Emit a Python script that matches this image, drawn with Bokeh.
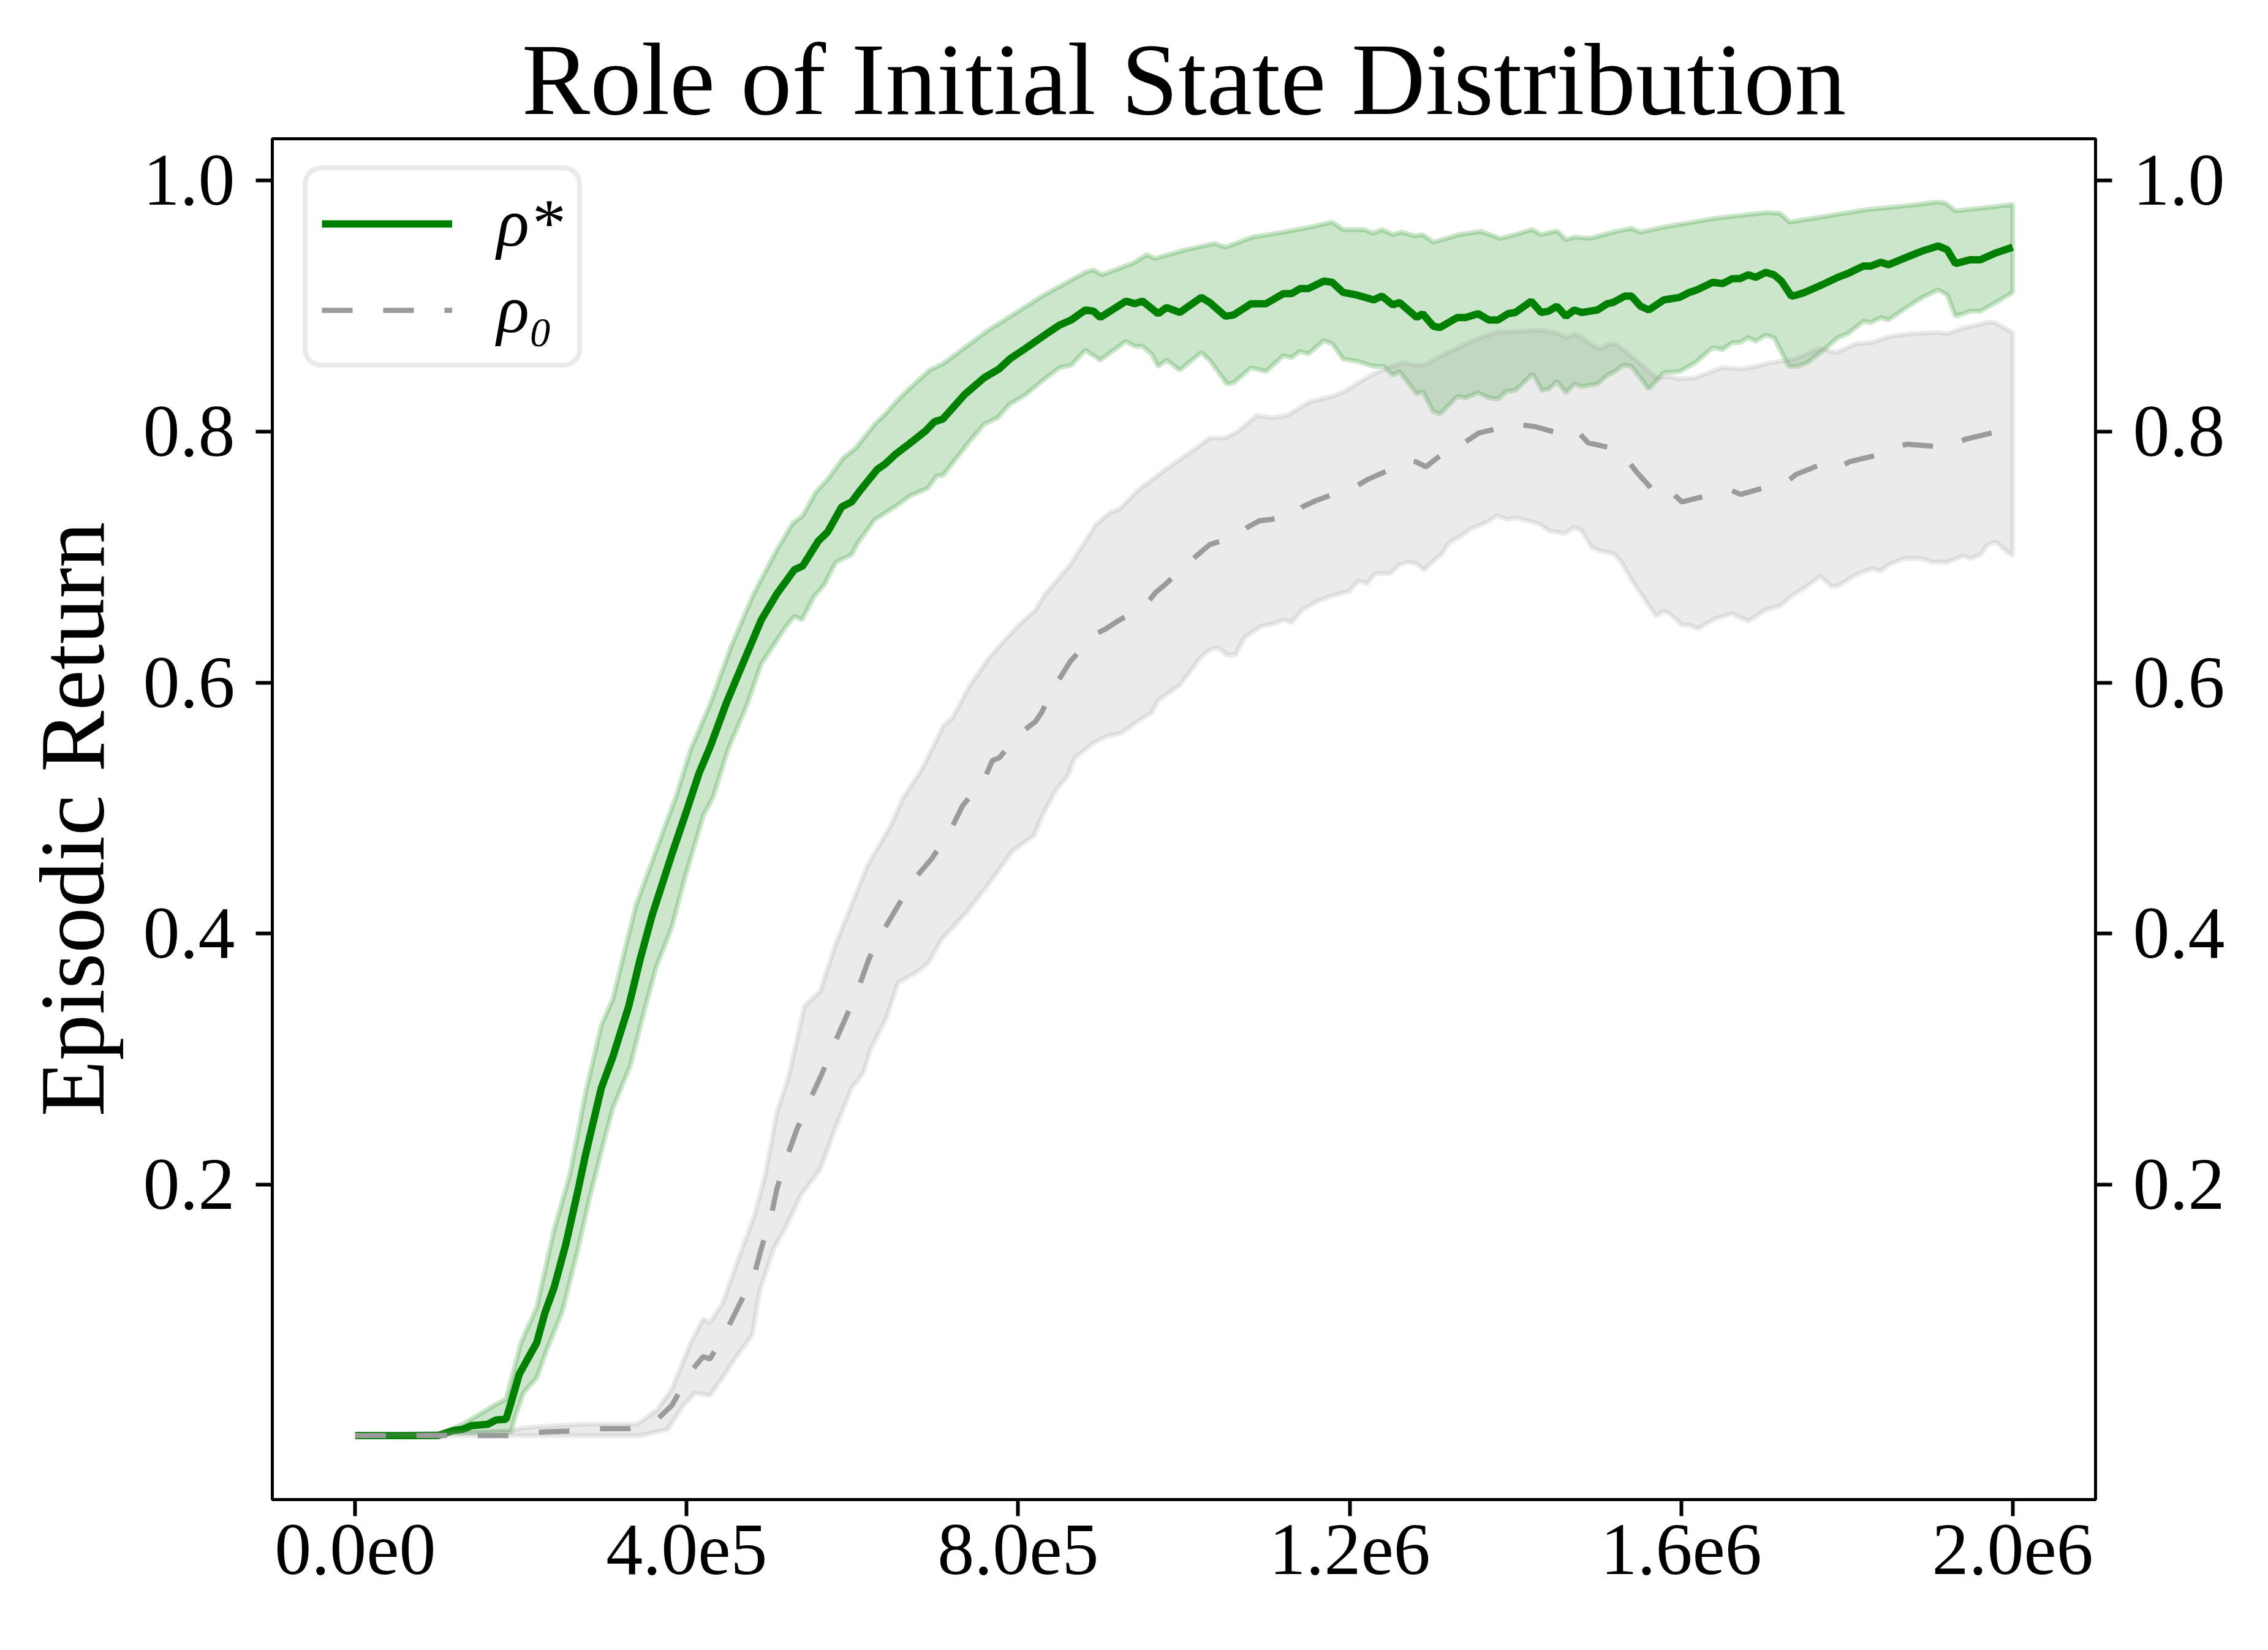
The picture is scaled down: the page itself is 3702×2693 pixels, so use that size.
from bokeh.plotting import figure
from bokeh.models import (LinearAxis, FixedTicker, Legend, LegendItem, Range1d,
                          NumeralTickFormatter)
from bokeh.embed import file_html
from bokeh.resources import INLINE

# ---------------- data (x in thousands of environment steps) ----------------
green_x = [0, 100, 118, 130, 141, 160, 170, 182, 188, 198, 219, 229, 240, 254, 269, 278, 297, 311,
           330, 344, 358, 382, 401, 415, 429, 448, 467, 490, 509, 519, 530, 540, 559, 570, 587, 599,
           608, 630, 639, 652, 668, 689, 699, 709, 736, 759, 777, 790, 808, 832, 850, 864, 881, 891,
           899, 930, 941, 950, 969, 979, 995, 1021, 1031, 1050, 1060, 1081, 1099, 1120, 1130, 1140,
           1150, 1169, 1179, 1192, 1208, 1229, 1239, 1252, 1260, 1281, 1288, 1301, 1309, 1330, 1340,
           1355, 1368, 1379, 1391, 1400, 1419, 1431, 1440, 1450, 1461, 1471, 1480, 1499, 1511, 1518,
           1532, 1540, 1551, 1561, 1579, 1598, 1610, 1619, 1638, 1650, 1662, 1671, 1681, 1690, 1702,
           1712, 1721, 1733, 1740, 1749, 1763, 1773, 1789, 1801, 1820, 1829, 1841, 1850, 1872, 1891,
           1910, 1921, 1931, 1949, 1961, 1978, 2000]
green_mean = [0.0, 0.0, 0.004, 0.005, 0.008, 0.009, 0.0125, 0.013, 0.026, 0.049, 0.074, 0.098, 0.118,
              0.152, 0.196, 0.224, 0.277, 0.302, 0.342, 0.380, 0.414, 0.463, 0.500, 0.528, 0.550,
              0.584, 0.614, 0.650, 0.671, 0.680, 0.690, 0.693, 0.713, 0.720, 0.740, 0.744, 0.752,
              0.770, 0.774, 0.782, 0.790, 0.801, 0.808, 0.810, 0.830, 0.843, 0.850, 0.858, 0.866,
              0.877, 0.885, 0.889, 0.897, 0.896, 0.891, 0.904, 0.902, 0.904, 0.894, 0.899, 0.895,
              0.907, 0.903, 0.892, 0.893, 0.902, 0.902, 0.910, 0.910, 0.914, 0.914, 0.920, 0.919,
              0.911, 0.909, 0.905, 0.908, 0.901, 0.903, 0.891, 0.894, 0.884, 0.883, 0.891, 0.891,
              0.894, 0.889, 0.889, 0.894, 0.895, 0.904, 0.895, 0.896, 0.900, 0.892, 0.897, 0.895,
              0.897, 0.902, 0.903, 0.908, 0.908, 0.900, 0.897, 0.905, 0.907, 0.911, 0.913, 0.919,
              0.918, 0.922, 0.922, 0.925, 0.923, 0.927, 0.925, 0.920, 0.908, 0.909, 0.911, 0.915,
              0.918, 0.923, 0.926, 0.932, 0.932, 0.935, 0.933, 0.939, 0.944, 0.948, 0.945, 0.934,
              0.937, 0.937, 0.942, 0.947]

green_up_x = [0, 100, 132, 150, 170, 182, 193, 200, 219, 240, 259, 278, 297, 311, 325, 339, 363, 387,
              405, 429, 453, 481, 509, 528, 540, 556, 570, 589, 604, 627, 641, 653, 665, 693, 709,
              762, 829, 881, 891, 901, 938, 955, 965, 1000, 1037, 1050, 1083, 1120, 1156, 1179, 1192,
              1218, 1228, 1239, 1252, 1263, 1278, 1288, 1301, 1332, 1358, 1382, 1400, 1420, 1431,
              1450, 1461, 1471, 1490, 1518, 1540, 1551, 1579, 1641, 1702, 1719, 1731, 1778, 1825,
              1872, 1910, 1919, 1931, 1961, 2000]
green_up = [0.0, 0.0, 0.010, 0.017, 0.025, 0.029, 0.056, 0.074, 0.102, 0.164, 0.208, 0.273, 0.327,
            0.348, 0.386, 0.423, 0.466, 0.509, 0.547, 0.584, 0.628, 0.671, 0.706, 0.727, 0.733,
            0.752, 0.762, 0.779, 0.787, 0.806, 0.815, 0.824, 0.832, 0.849, 0.854, 0.880, 0.908,
            0.927, 0.929, 0.925, 0.934, 0.941, 0.938, 0.9445, 0.950, 0.947, 0.955, 0.959, 0.9635,
            0.967, 0.961, 0.961, 0.958, 0.961, 0.957, 0.959, 0.956, 0.957, 0.951, 0.957, 0.9595,
            0.954, 0.957, 0.961, 0.957, 0.960, 0.953, 0.955, 0.954, 0.959, 0.962, 0.959, 0.963,
            0.970, 0.9746, 0.974, 0.967, 0.972, 0.977, 0.980, 0.983, 0.982, 0.976, 0.978, 0.981]

green_lo_x = [0, 188, 193, 203, 219, 231, 250, 269, 283, 302, 311, 332, 349, 363, 382, 398, 420, 432,
              450, 472, 490, 509, 519, 530, 539, 554, 566, 580, 599, 606, 627, 651, 670, 691, 702,
              709, 741, 759, 775, 790, 808, 832, 850, 864, 881, 899, 930, 941, 950, 961, 969, 979,
              995, 1021, 1031, 1052, 1060, 1081, 1099, 1120, 1130, 1140, 1150, 1169, 1179, 1192,
              1210, 1229, 1241, 1252, 1260, 1281, 1288, 1301, 1309, 1330, 1340, 1355, 1368, 1379,
              1389, 1400, 1421, 1432, 1440, 1450, 1461, 1471, 1480, 1499, 1511, 1520, 1530, 1540,
              1561, 1579, 1598, 1617, 1638, 1650, 1662, 1671, 1681, 1690, 1702, 1712, 1730, 1740,
              1752, 1770, 1789, 1801, 1820, 1829, 1841, 1850, 1872, 1891, 1910, 1921, 1931, 1949,
              1961, 1980, 2000]
green_lo = [0.0, 0.003, 0.015, 0.034, 0.046, 0.068, 0.099, 0.149, 0.190, 0.239, 0.261, 0.295, 0.339,
            0.373, 0.405, 0.445, 0.494, 0.509, 0.547, 0.581, 0.615, 0.634, 0.644, 0.653, 0.650,
            0.669, 0.678, 0.696, 0.702, 0.711, 0.730, 0.740, 0.749, 0.755, 0.765, 0.765, 0.792,
            0.806, 0.811, 0.822, 0.829, 0.842, 0.851, 0.853, 0.865, 0.857, 0.872, 0.868, 0.868,
            0.862, 0.852, 0.857, 0.849, 0.863, 0.857, 0.838, 0.839, 0.851, 0.848, 0.8606, 0.859,
            0.864, 0.862, 0.8726, 0.870, 0.858, 0.856, 0.852, 0.852, 0.845, 0.848, 0.830, 0.832,
            0.816, 0.814, 0.828, 0.827, 0.831, 0.827, 0.826, 0.832, 0.833, 0.846, 0.833, 0.834,
            0.840, 0.831, 0.838, 0.836, 0.838, 0.845, 0.848, 0.853, 0.852, 0.834, 0.847, 0.848,
            0.855, 0.867, 0.8655, 0.871, 0.871, 0.875, 0.872, 0.877, 0.875, 0.852, 0.852, 0.855,
            0.864, 0.875, 0.878, 0.888, 0.887, 0.891, 0.889, 0.899, 0.907, 0.913, 0.909, 0.892,
            0.896, 0.896, 0.903, 0.911]

gray_x = [0, 184, 230, 270, 292, 330, 363, 382, 405, 420, 428, 448, 464, 481, 490, 502, 509, 521, 533,
          549, 563, 578, 592, 608, 620, 636, 653, 674, 696, 718, 733, 759, 769, 777, 803, 821, 828,
          845, 863, 891, 906, 920, 954, 966, 977, 1008, 1031, 1065, 1077, 1091, 1130, 1143, 1159,
          1197, 1209, 1222, 1260, 1272, 1280, 1292, 1325, 1340, 1356, 1389, 1400, 1424, 1461, 1471,
          1478, 1488, 1523, 1532, 1546, 1561, 1570, 1579, 1591, 1601, 1637, 1661, 1672, 1709, 1723,
          1739, 1773, 1783, 1789, 1803, 1841, 1853, 1872, 1912, 1919, 1943, 1981, 1990, 2000]
gray_mean = [0.0, 0.0, 0.003, 0.004, 0.0055, 0.0055, 0.012, 0.024, 0.051, 0.063, 0.061, 0.0835, 0.105,
             0.127, 0.149, 0.175, 0.197, 0.222, 0.244, 0.268, 0.288, 0.312, 0.333, 0.358, 0.380,
             0.401, 0.420, 0.443, 0.460, 0.482, 0.502, 0.523, 0.538, 0.540, 0.560, 0.569, 0.576,
             0.598, 0.617, 0.638, 0.643, 0.649, 0.662, 0.672, 0.678, 0.697, 0.710, 0.717, 0.724,
             0.729, 0.732, 0.740, 0.745, 0.754, 0.757, 0.762, 0.773, 0.777, 0.776, 0.772, 0.789,
             0.792, 0.799, 0.804, 0.806, 0.804, 0.797, 0.801, 0.798, 0.791, 0.786, 0.780, 0.768,
             0.757, 0.748, 0.751, 0.750, 0.744, 0.750, 0.753, 0.750, 0.757, 0.758, 0.766, 0.775,
             0.771, 0.771, 0.776, 0.782, 0.786, 0.790, 0.788, 0.787, 0.794, 0.800, 0.795, 0.791]

gray_up_x = [0, 190, 203, 273, 339, 349, 365, 382, 405, 420, 428, 443, 462, 481, 495, 509, 523, 542,
             561, 580, 599, 618, 647, 661, 684, 710, 720, 741, 764, 777, 801, 821, 832, 863, 894, 912,
             922, 946, 974, 1011, 1031, 1050, 1065, 1088, 1107, 1125, 1151, 1165, 1179, 1194, 1213,
             1229, 1246, 1264, 1280, 1290, 1312, 1337, 1358, 1379, 1400, 1429, 1448, 1462, 1471,
             1480, 1493, 1502, 1514, 1523, 1532, 1546, 1570, 1584, 1598, 1617, 1637, 1650, 1674,
             1690, 1709, 1737, 1768, 1787, 1811, 1830, 1853, 1877, 1910, 1921, 1943, 1952, 1969,
             1978, 2000]
gray_up = [0.0, 0.004, 0.0063, 0.009, 0.009, 0.013, 0.021, 0.037, 0.074, 0.093, 0.090, 0.105, 0.140,
           0.174, 0.208, 0.258, 0.286, 0.342, 0.354, 0.392, 0.423, 0.454, 0.487, 0.508, 0.531, 0.566,
           0.571, 0.597, 0.619, 0.629, 0.646, 0.658, 0.670, 0.694, 0.726, 0.736, 0.738, 0.754,
           0.768, 0.785, 0.795, 0.795, 0.800, 0.813, 0.811, 0.813, 0.8235, 0.826, 0.828, 0.832,
           0.840, 0.846, 0.851, 0.855, 0.853, 0.853, 0.861, 0.869, 0.875, 0.8795, 0.880, 0.881,
           0.879, 0.875, 0.878, 0.875, 0.869, 0.866, 0.870, 0.869, 0.864, 0.857, 0.843, 0.844,
           0.842, 0.843, 0.848, 0.851, 0.850, 0.852, 0.855, 0.858, 0.8665, 0.863, 0.870, 0.871,
           0.876, 0.878, 0.879, 0.878, 0.883, 0.884, 0.887, 0.887, 0.879]

gray_lo_x = [0, 344, 377, 396, 410, 428, 443, 462, 479, 488, 505, 521, 538, 561, 580, 599, 613, 622,
             641, 655, 679, 692, 707, 735, 765, 793, 819, 829, 845, 860, 868, 891, 906, 925, 944, 961,
             969, 995, 1021, 1031, 1041, 1052, 1062, 1073, 1093, 1109, 1121, 1130, 1143, 1161, 1182,
             1200, 1210, 1221, 1231, 1249, 1260, 1270, 1280, 1290, 1301, 1312, 1319, 1337, 1347,
             1363, 1378, 1391, 1400, 1429, 1440, 1460, 1471, 1480, 1492, 1502, 1518, 1528, 1542,
             1570, 1579, 1586, 1601, 1610, 1620, 1641, 1661, 1681, 1702, 1719, 1733, 1750, 1768,
             1781, 1789, 1811, 1830, 1841, 1850, 1870, 1891, 1903, 1921, 1940, 1949, 1961, 1970,
             1980, 1990, 2000]
gray_lo = [0.0, 0.0, 0.005, 0.024, 0.034, 0.032, 0.046, 0.065, 0.080, 0.115, 0.149, 0.168, 0.192,
           0.212, 0.246, 0.277, 0.289, 0.308, 0.333, 0.361, 0.370, 0.377, 0.395, 0.415, 0.440,
           0.466, 0.478, 0.494, 0.514, 0.526, 0.540, 0.552, 0.557, 0.560, 0.569, 0.576, 0.586,
           0.598, 0.621, 0.626, 0.628, 0.622, 0.622, 0.636, 0.645, 0.647, 0.650, 0.648, 0.658,
           0.665, 0.670, 0.673, 0.681, 0.679, 0.687, 0.687, 0.694, 0.696, 0.695, 0.690, 0.697,
           0.703, 0.711, 0.718, 0.723, 0.727, 0.733, 0.730, 0.7315, 0.7265, 0.721, 0.719, 0.724,
           0.721, 0.708, 0.705, 0.703, 0.696, 0.680, 0.653, 0.657, 0.655, 0.646, 0.646, 0.643,
           0.651, 0.655, 0.649, 0.658, 0.661, 0.669, 0.676, 0.685, 0.677, 0.677, 0.686, 0.691,
           0.689, 0.694, 0.699, 0.699, 0.696, 0.696, 0.701, 0.699, 0.702, 0.710, 0.712, 0.706,
           0.701]

x_ticks = [0, 400000, 800000, 1200000, 1600000, 2000000]
x_tick_labels = ["0.0e0", "4.0e5", "8.0e5", "1.2e6", "1.6e6", "2.0e6"]
y_ticks = [0.2, 0.4, 0.6, 0.8, 1.0]

title_text = "Role of Initial State Distribution"
y_label = "Episodic Return"
legend_labels = ["ρ*", "ρ₀"]

GREEN = "#008000"
GRAY = "#9b9b9b"
FONT = "Liberation Serif"


def k(xs):
    return [v * 1000.0 for v in xs]


p = figure(width=3686, height=2677, output_backend="svg", toolbar_location=None,
           x_range=Range1d(-100000, 2100000), y_range=Range1d(-0.051, 1.0334),
           min_border_left=444, min_border_right=266, min_border_top=226,
           min_border_bottom=230)
p.background_fill_color = "white"
p.border_fill_color = "white"
p.outline_line_color = "black"
p.outline_line_width = 5
p.xgrid.visible = False
p.ygrid.visible = False

p.title.text = title_text
p.title.text_font = FONT
p.title.text_font_size = "167px"
p.title.text_font_style = "normal"
p.title.align = "center"
p.title.text_color = "black"

# bands and lines
p.patch(k(green_up_x) + k(green_lo_x[::-1]), green_up + green_lo[::-1],
        fill_color=GREEN, fill_alpha=0.2, line_color=GREEN, line_alpha=0.2, line_width=8)
r_green = p.line(k(green_x), green_mean, line_color=GREEN, line_width=12)
p.patch(k(gray_up_x) + k(gray_lo_x[::-1]), gray_up + gray_lo[::-1],
        fill_color=GRAY, fill_alpha=0.2, line_color=GRAY, line_alpha=0.2, line_width=8)
r_gray = p.line(k(gray_x), gray_mean, line_color=GRAY, line_width=8.5, line_dash="50 50",
                line_cap="butt")

# axes
right_axis = LinearAxis()
p.add_layout(right_axis, "right")

for ax in [p.xaxis[0], p.yaxis[0], right_axis]:
    ax.major_label_text_font = FONT
    ax.major_label_text_font_size = "120px"
    ax.major_label_text_color = "black"
    ax.axis_line_color = "black"
    ax.axis_line_width = 5
    ax.major_tick_line_color = "black"
    ax.major_tick_line_width = 6
    ax.major_tick_out = 27
    ax.major_tick_in = 0
    ax.minor_tick_line_color = None
    ax.major_label_standoff = 34

p.xaxis[0].ticker = FixedTicker(ticks=x_ticks)
p.xaxis[0].major_label_overrides = dict(zip(x_ticks, x_tick_labels))
p.xaxis[0].major_label_standoff = 15

for ax in [p.yaxis[0], right_axis]:
    ax.ticker = FixedTicker(ticks=y_ticks)
    ax.formatter = NumeralTickFormatter(format="0.0")

p.yaxis[0].axis_label = y_label
p.yaxis[0].axis_label_text_font = FONT
p.yaxis[0].axis_label_text_font_size = "150px"
p.yaxis[0].axis_label_text_font_style = "normal"
p.yaxis[0].axis_label_text_color = "black"
p.yaxis[0].axis_label_standoff = 30

legend = Legend(items=[LegendItem(label=legend_labels[0], renderers=[r_green]),
                       LegendItem(label=legend_labels[1], renderers=[r_gray])],
                location=(50, 1847))
legend.label_text_font = FONT
legend.label_text_font_size = "110px"
legend.label_text_font_style = "italic"
legend.label_text_color = "black"
legend.glyph_width = 213
legend.glyph_height = 110
legend.label_height = 110
legend.label_standoff = 73
legend.spacing = 14
legend.padding = 23
legend.border_line_color = "#d6d6d6"
legend.border_line_width = 8
legend.background_fill_color = "white"
legend.background_fill_alpha = 0.8
if "border_radius" in Legend.properties():
    legend.border_radius = 30
p.add_layout(legend)

open("out.html", "w").write(file_html(p, INLINE))
